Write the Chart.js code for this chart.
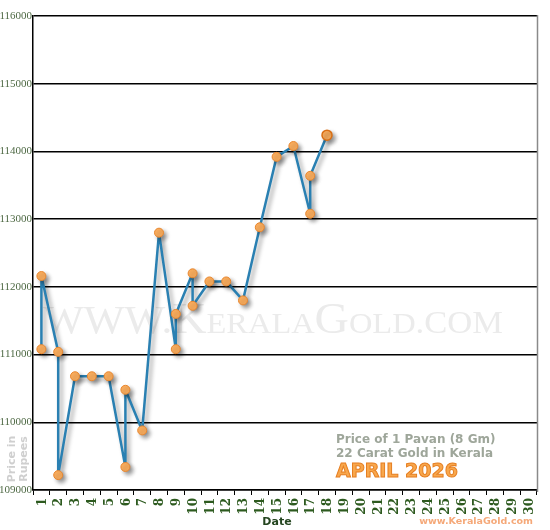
<!DOCTYPE html>
<html>
<head>
<meta charset="utf-8">
<script src="https://cdn.jsdelivr.net/npm/chart.js@4.4.1/dist/chart.umd.min.js"></script>
<style>
  html, body { margin: 0; padding: 0; background: #ffffff; }
  #wrap { width: 550px; height: 530px; position: relative; }
</style>
</head>
<body>
<div id="wrap"><canvas id="c" width="550" height="530"></canvas></div>
<script>
// ---- data ----
const dayLabels = ['1','2','3','4','5','6','7','8','9','10','11','12','13','14','15','16','17','18','19','20','21','22','23','24','25','26','27','28','29','30'];
const pointDays = ['1','1','2','2','3','4','5','6','6','7','8','9','9','10','10','11','12','13','14','15','16','17','17','18'];
const pointPrices = [111080,112160,111040,109220,110680,110680,110680,109340,110480,109880,112800,111080,111600,112200,111720,112080,112080,111800,112880,113920,114080,113080,113640,114240];
const yTickMin = 109000;
const yTickMax = 116000;
const yTickStep = 1000;
const noteLines = ['Price of 1 Pavan (8 Gm)', '22 Carat Gold in Kerala'];
const noteMonth = 'APRIL 2026';
const siteText = 'www.KeralaGold.com';
const yAxisTitle = ['Price in', 'Rupees'];
const xAxisTitle = 'Date';

const points = pointDays.map((d, i) => ({ x: d, y: pointPrices[i] }));
const lastIdx = points.length - 1;
const SERIF = "'Liberation Serif', 'Times New Roman', serif";
const DSERIF = "'DejaVu Serif', serif";

const shadowPlugin = {
  id: 'shadow',
  beforeDatasetDraw(chart) {
    const ctx = chart.ctx;
    ctx.save();
    ctx.shadowColor = 'rgba(0,0,0,0.38)';
    ctx.shadowOffsetX = 3;
    ctx.shadowOffsetY = 3;
    ctx.shadowBlur = 4;
  },
  afterDatasetDraw(chart) {
    chart.ctx.restore();
  }
};

// vertical (bottom-to-top) category labels drawn at the x scale's tick positions
const xLabelPlugin = {
  id: 'xlabels',
  afterDraw(chart) {
    const ctx = chart.ctx;
    const xs = chart.scales.x;
    const y0 = chart.chartArea.bottom + 8;
    ctx.save();
    ctx.fillStyle = '#2d5a1f';
    ctx.font = 'bold 12px ' + DSERIF;
    ctx.textAlign = 'right';
    ctx.textBaseline = 'middle';
    xs.ticks.forEach((t, i) => {
      const x = xs.getPixelForTick(i) + 1;
      ctx.save();
      ctx.translate(x, y0);
      ctx.rotate(-Math.PI / 2);
      ctx.fillText(String(xs.getLabelForValue(t.value)), 0, 0);
      ctx.restore();
    });
    ctx.restore();
  }
};

const decorPlugin = {
  id: 'decor',
  beforeDatasetsDraw(chart) {
    const ctx = chart.ctx;
    const a = chart.chartArea;
    // watermark
    const segs = [['WWW.', 40], ['K', 44], ['ERALA', 30], ['G', 44], ['OLD', 30], ['.COM', 32]];
    ctx.save();
    let total = 0;
    segs.forEach(s => { ctx.font = s[1] + 'px ' + SERIF; total += ctx.measureText(s[0]).width; });
    const targetW = 460;
    const sx = targetW / total;
    ctx.translate(a.left + 10, 333);
    ctx.scale(sx, 1);
    ctx.fillStyle = '#ebebeb';
    ctx.textBaseline = 'alphabetic';
    let x = 0;
    segs.forEach(s => {
      ctx.font = s[1] + 'px ' + SERIF;
      ctx.fillText(s[0], x, 0);
      x += ctx.measureText(s[0]).width;
    });
    ctx.restore();
  },
  afterDraw(chart) {
    const ctx = chart.ctx;
    const a = chart.chartArea;
    ctx.save();
    // right border
    ctx.strokeStyle = '#8a8a8a';
    ctx.lineWidth = 1.5;
    ctx.beginPath();
    ctx.moveTo(a.right + 0.5, a.top - 1);
    ctx.lineTo(a.right + 0.5, a.bottom + 2);
    ctx.stroke();

    // y axis title (rotated)
    ctx.fillStyle = '#cfcfcf';
    ctx.font = 'bold 11px "DejaVu Sans"';
    ctx.textAlign = 'center';
    ctx.textBaseline = 'alphabetic';
    ctx.save();
    ctx.translate(0, 459);
    ctx.rotate(-Math.PI / 2);
    ctx.fillText(yAxisTitle[0], 0, 15);
    ctx.fillText(yAxisTitle[1], 0, 27);
    ctx.restore();

    // x axis title
    ctx.fillStyle = '#24451f';
    ctx.font = 'bold 11px "DejaVu Sans"';
    ctx.textAlign = 'center';
    ctx.fillText(xAxisTitle, 277, 525);

    // note
    ctx.textAlign = 'left';
    ctx.fillStyle = '#9ea69a';
    ctx.font = 'bold 12px "DejaVu Sans"';
    ctx.fillText(noteLines[0], 336, 443);
    ctx.fillText(noteLines[1], 336, 457);
    ctx.font = 'bold 19px "DejaVu Sans"';
    ctx.fillStyle = '#f8a74c';
    ctx.strokeStyle = '#e67f22';
    ctx.lineWidth = 1;
    ctx.fillText(noteMonth, 336, 477);
    ctx.strokeText(noteMonth, 336, 477);

    // site
    ctx.font = 'bold 9.5px "DejaVu Sans"';
    ctx.fillStyle = '#f5a878';
    ctx.textAlign = 'right';
    ctx.fillText(siteText, 533, 524);
    ctx.restore();
  }
};

new Chart(document.getElementById('c'), {
  type: 'line',
  data: {
    labels: dayLabels,
    datasets: [{
      data: points,
      borderColor: '#2a80b2',
      borderWidth: 2.5,
      borderJoinStyle: 'round',
      borderCapStyle: 'round',
      tension: 0,
      fill: false,
      pointRadius: c => c.dataIndex === lastIdx ? 5 : 4.5,
      pointBorderWidth: c => c.dataIndex === lastIdx ? 1.5 : 1,
      pointBackgroundColor: '#fbae5e',
      pointBorderColor: c => c.dataIndex === lastIdx ? '#d96f15' : '#e8862e',
      pointHoverRadius: 4
    }]
  },
  plugins: [shadowPlugin, decorPlugin, xLabelPlugin],
  options: {
    responsive: false,
    animation: false,
    events: [],
    layout: { padding: { top: 16, right: 13, left: 0, bottom: 0 } },
    plugins: { legend: { display: false }, tooltip: { enabled: false } },
    scales: {
      x: {
        type: 'category',
        offset: true,
        grid: { display: true, drawOnChartArea: false, drawTicks: true, tickLength: 5, color: '#000000', lineWidth: 1, offset: true },
        border: { display: true, color: '#000000', width: 1.5 },
        ticks: {
          display: false,
          autoSkip: false
        },
        afterFit: s => { s.height = 40; }
      },
      y: {
        min: yTickMin,
        max: yTickMax,
        grid: { color: '#000000', lineWidth: 1.5, drawTicks: false },
        border: { display: true, color: '#000000', width: 1.5 },
        ticks: {
          stepSize: yTickStep,
          padding: 1,
          color: '#4f6a45',
          font: { family: SERIF, size: 11 },
          callback: v => String(v)
        },
        afterFit: s => { s.width = 33; }
      }
    }
  }
});
</script>
</body>
</html>
